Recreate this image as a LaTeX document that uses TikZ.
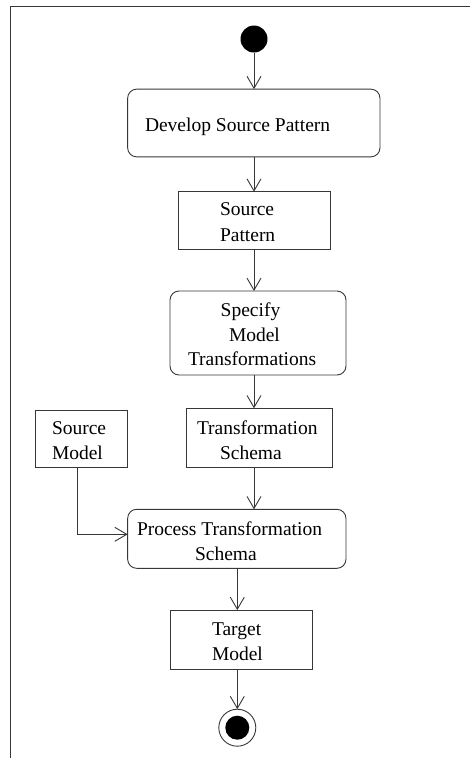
\documentclass[tikz,border=0pt]{standalone}
\usepackage{fontspec}
\setmainfont{LiberationSerif}[Extension=.ttf, UprightFont=*-Regular, BoldFont=*-Bold, ItalicFont=*-Italic, BoldItalicFont=*-BoldItalic]
\usetikzlibrary{arrows.meta}
\definecolor{ink}{RGB}{55,55,55}
\begin{document}
\begin{tikzpicture}[x=1pt,y=-1pt,
  every node/.style={inner sep=0pt, outer sep=0pt},
  actbox/.style={draw=ink, line width=0.9pt, rounded corners=9pt},
  objbox/.style={draw=ink, line width=0.9pt},
  txt/.style={anchor=base west, font=\fontsize{19.5}{25}\selectfont},
  flow/.style={draw=ink, line width=0.9pt, -{Straight Barb[length=12pt,width=14pt,line width=0.9pt]}}]
  \useasboundingbox (0,0) rectangle (469,758);
  % open frame
  \draw[ink, line width=0.9pt] (10,760) -- (10,6) -- (470,6);

  % start and end states
  \node[circle, fill=black, minimum size=27pt] (init) at (254,39) {};
  \node[circle, draw=ink, line width=0.9pt, minimum size=37pt] (final) at (237.3,727.7) {};
  \node[circle, fill=black, minimum size=24pt] (finaldot) at (237.3,727.7) {};

  % activities and objects
  \node[actbox, minimum width=252.3pt, minimum height=67.7pt] (dsp) at (253.8,123) {};
  \node[objbox, minimum width=151.7pt, minimum height=57.3pt] (sp) at (254.2,220.4) {};
  \node[actbox, minimum width=176pt, minimum height=84pt] (spec) at (258,333) {};
  \node[objbox, minimum width=146pt, minimum height=59pt] (ts) at (259.7,437.8) {};
  \node[objbox, minimum width=92.4pt, minimum height=57.3pt] (sm) at (81.5,438.6) {};
  \node[actbox, minimum width=218.3pt, minimum height=59pt] (pts) at (236.8,538.8) {};
  \node[objbox, minimum width=142.7pt, minimum height=59.3pt] (tm) at (241.3,639.7) {};

  % labels
  \node[txt] (dspT) at (145,131.7) {Develop Source Pattern};
  \node[txt] (spT1) at (220,215) {Source};
  \node[txt] (spT2) at (220,241) {Pattern};
  \node[txt] (specT1) at (220.7,316.7) {Specify};
  \node[txt] (specT2) at (229,341.7) {Model};
  \node[txt] (specT3) at (188,365.7) {Transformations};
  \node[txt] (tsT1) at (197,434) {Transformation};
  \node[txt] (tsT2) at (220,459) {Schema};
  \node[txt] (smT1) at (52,434) {Source};
  \node[txt] (smT2) at (52,459) {Model};
  \node[txt] (ptsT1) at (137,535) {Process Transformation};
  \node[txt] (ptsT2) at (195,560) {Schema};
  \node[txt] (tmT1) at (212,635) {Target};
  \node[txt] (tmT2) at (212,660) {Model};

  % control and object flows
  \draw[flow] (init.south) -- (init.south |- dsp.north);
  \draw[flow] (init.south |- dsp.south) -- (init.south |- sp.north);
  \draw[flow] (init.south |- sp.south) -- (init.south |- spec.north);
  \draw[flow] (init.south |- spec.south) -- (init.south |- ts.north);
  \draw[flow] (init.south |- ts.south) -- (init.south |- pts.north);
  \draw[flow] ([xshift=-3.8pt]sm.south) |- ([yshift=4.5pt]pts.west);
  \draw[flow] (final.north |- pts.south) -- (final.north |- tm.north);
  \draw[flow] (final.north |- tm.south) -- (final.north);
\end{tikzpicture}
\end{document}
